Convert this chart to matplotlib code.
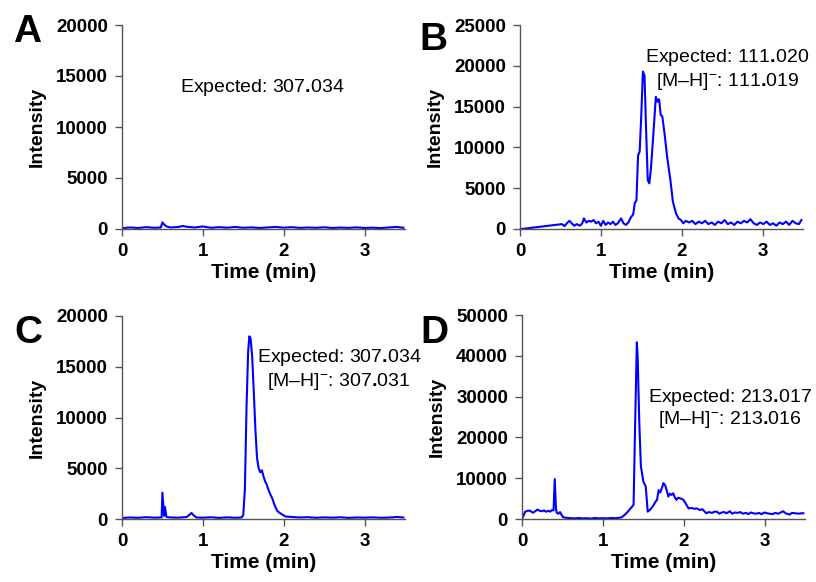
"""
Extracted-ion chromatograms, four panels (A-D), redrawn from the figure.
"""

import matplotlib
matplotlib.use("Agg")
import matplotlib.pyplot as plt

plt.rcParams["font.family"] = ["Liberation Sans", "DejaVu Sans"]
plt.rcParams["mathtext.fontset"] = "custom"
plt.rcParams["mathtext.rm"] = "Liberation Sans"
plt.rcParams["mathtext.it"] = "Liberation Sans"
plt.rcParams["mathtext.bf"] = "Liberation Sans:bold"

W, H = 816, 582

# ---- data ----
a_time = [0.00, 0.10, 0.20, 0.30, 0.40, 0.48, 0.50, 0.52, 0.55, 0.60, 0.70, 0.75,
          0.80, 0.90, 1.00, 1.10, 1.20, 1.30, 1.40, 1.50, 1.60, 1.70, 1.80, 1.90,
          2.00, 2.10, 2.20, 2.30, 2.40, 2.50, 2.60, 2.70, 2.80, 2.90, 3.00, 3.10,
          3.20, 3.30, 3.40, 3.48]
a_int = [80, 150, 100, 180, 120, 150, 650, 450, 250, 150, 200, 300,
         220, 150, 250, 120, 180, 130, 200, 120, 160, 100, 150, 200,
         130, 180, 110, 150, 120, 170, 100, 140, 110, 160, 100, 130,
         90, 150, 200, 120]

b_time = [0.02, 0.52, 0.55, 0.58, 0.61, 0.64, 0.67, 0.70, 0.74, 0.77, 0.79, 0.82,
          0.85, 0.88, 0.91, 0.94, 0.97, 1.00, 1.03, 1.06, 1.09, 1.12, 1.15, 1.18,
          1.21, 1.25, 1.28, 1.31, 1.34, 1.37, 1.40, 1.42, 1.44, 1.46, 1.48, 1.50,
          1.52, 1.54, 1.56, 1.58, 1.60, 1.62, 1.65, 1.68, 1.70, 1.72, 1.74, 1.76,
          1.79, 1.82, 1.86, 1.89, 1.93, 1.96, 1.99, 2.02, 2.05, 2.09, 2.13, 2.17,
          2.21, 2.25, 2.29, 2.33, 2.37, 2.41, 2.45, 2.49, 2.53, 2.57, 2.61, 2.65,
          2.69, 2.73, 2.77, 2.81, 2.85, 2.89, 2.93, 2.97, 3.01, 3.05, 3.09, 3.13,
          3.17, 3.21, 3.25, 3.29, 3.33, 3.37, 3.41, 3.45, 3.48]
b_int = [0, 600, 350, 700, 1000, 700, 400, 600, 400, 700, 1300, 800,
         1000, 900, 1100, 700, 900, 400, 1000, 500, 800, 600, 900, 500,
         700, 1300, 700, 500, 800, 1400, 1800, 3200, 3500, 9000, 9500, 14000,
         19300, 18800, 12000, 6000, 5600, 7500, 11700, 16200, 15600, 15900, 14000, 13800,
         11500, 8800, 6000, 3400, 1900, 1300, 1100, 700, 1000, 800, 1000, 600,
         900, 700, 1000, 600, 800, 500, 900, 700, 1100, 600, 800, 500,
         900, 700, 1000, 800, 1200, 700, 500, 800, 600, 900, 500, 700,
         400, 800, 600, 900, 500, 1000, 700, 600, 1100]

c_time = [0.00, 0.10, 0.20, 0.30, 0.40, 0.49, 0.50, 0.52, 0.53, 0.55, 0.60, 0.70,
          0.80, 0.84, 0.86, 0.88, 0.92, 1.00, 1.10, 1.20, 1.30, 1.40, 1.48, 1.50,
          1.52, 1.54, 1.56, 1.575, 1.59, 1.61, 1.63, 1.65, 1.67, 1.69, 1.71, 1.73,
          1.75, 1.77, 1.79, 1.81, 1.83, 1.86, 1.89, 1.92, 1.95, 1.98, 2.02, 2.10,
          2.20, 2.30, 2.40, 2.50, 2.60, 2.70, 2.80, 2.90, 3.00, 3.10, 3.20, 3.30,
          3.40, 3.48]
c_int = [100, 150, 120, 180, 130, 150, 2600, 300, 1200, 200, 150, 130,
         200, 450, 600, 400, 150, 130, 170, 110, 160, 120, 150, 400,
         3000, 11000, 16500, 18000, 17800, 16000, 12500, 8800, 6000, 5000, 4600, 4800,
         4200, 3700, 3400, 2900, 2500, 2000, 1300, 800, 600, 450, 250, 200,
         150, 180, 120, 160, 130, 170, 110, 150, 130, 160, 120, 140,
         200, 150]

d_time = [0.00, 0.04, 0.07, 0.10, 0.12, 0.14, 0.17, 0.19, 0.22, 0.25, 0.27, 0.30,
          0.33, 0.35, 0.37, 0.39, 0.405, 0.42, 0.43, 0.45, 0.47, 0.49, 0.51, 0.55,
          0.60, 0.65, 0.70, 0.75, 0.80, 0.85, 0.90, 0.95, 1.00, 1.05, 1.10, 1.15,
          1.20, 1.23, 1.27, 1.30, 1.33, 1.36, 1.38, 1.40, 1.42, 1.43, 1.45, 1.47,
          1.50, 1.53, 1.555, 1.58, 1.61, 1.63, 1.65, 1.67, 1.69, 1.71, 1.73, 1.75,
          1.77, 1.79, 1.81, 1.83, 1.85, 1.87, 1.89, 1.91, 1.93, 1.95, 1.98, 2.00,
          2.03, 2.06, 2.10, 2.13, 2.16, 2.20, 2.23, 2.26, 2.28, 2.31, 2.35, 2.38,
          2.41, 2.44, 2.47, 2.50, 2.53, 2.57, 2.60, 2.63, 2.67, 2.70, 2.73, 2.77,
          2.80, 2.83, 2.86, 2.90, 2.93, 2.96, 3.00, 3.03, 3.06, 3.10, 3.13, 3.17,
          3.20, 3.23, 3.26, 3.29, 3.31, 3.34, 3.38, 3.42, 3.45, 3.48]
d_int = [0, 1800, 2000, 2050, 1700, 1560, 2000, 2300, 2000, 1900, 2100, 1800,
         2000, 1800, 2200, 2100, 9800, 2500, 1500, 1300, 1700, 1000, 400, 300,
         200, 150, 250, 150, 200, 100, 250, 150, 200, 150, 250, 200,
         300, 400, 1000, 1600, 2300, 3000, 3500, 24000, 43300, 40000, 24000, 13000,
         9200, 8000, 1800, 2200, 2900, 3500, 4200, 4700, 7100, 6500, 7600, 8800,
         8300, 7000, 5500, 6200, 5900, 6300, 5300, 4700, 5200, 5100, 4900, 4600,
         3600, 2600, 2700, 2500, 2600, 2200, 2400, 1800, 1400, 1700, 1500, 1800,
         1800, 1300, 1600, 1700, 1400, 1900, 1300, 1600, 1500, 1700, 1300, 1500,
         1200, 1600, 1400, 1300, 1500, 1200, 1600, 1400, 1300, 1200, 1500, 1300,
         1600, 1900, 1400, 1200, 1100, 1500, 1400, 1300, 1400, 1400]

panels = [
    # letter, time, intensity, ymax, ystep, axes box in px (left, top, right, bottom), notes
    ("A", a_time, a_int, 20000, 5000, (122, 25, 405, 229),
     [("Expected: ", "307", "034", 262, 87)]),
    ("B", b_time, b_int, 25000, 5000, (520, 25, 803, 229),
     [("Expected: ", "111", "020", 727, 57),
      ("[M\u2013H]$^{-}$: ", "111", "019", 728, 82)]),
    ("C", c_time, c_int, 20000, 5000, (122, 316, 405, 519),
     [("Expected: ", "307", "034", 339, 358),
      ("[M\u2013H]$^{-}$: ", "307", "031", 339, 382)]),
    ("D", d_time, d_int, 50000, 10000, (522, 315, 805, 519),
     [("Expected: ", "213", "017", 730, 398),
      ("[M\u2013H]$^{-}$: ", "213", "016", 730, 420)]),
]

letter_pos = {"A": (27, 32), "B": (433, 40), "C": (28, 333), "D": (434, 333)}

SPINE = "#555555"


def fx(x):
    return x / W


def fy(y):
    return 1 - y / H


fig = plt.figure(figsize=(W / 100, H / 100), dpi=100)

for letter, t, inten, ymax, ystep, box, notes in panels:
    l, top, r, b = box
    ax = fig.add_axes([fx(l), fy(b), (r - l) / W, (b - top) / H])
    ax.plot(t, inten, color="#0000ff", linewidth=1.5)
    ax.set_xlim(0, 3.5)
    ax.set_ylim(0, ymax)
    ax.set_xticks([0, 1, 2, 3])
    ax.set_yticks(list(range(0, ymax + 1, ystep)))
    for side in ("top", "right"):
        ax.spines[side].set_visible(False)
    for side in ("left", "bottom"):
        ax.spines[side].set_color(SPINE)
        ax.spines[side].set_linewidth(1.0)
    ax.tick_params(direction="out", length=5, width=1.0, color=SPINE,
                   labelsize=13.5, pad=5)
    for lab in ax.get_xticklabels() + ax.get_yticklabels():
        lab.set_fontweight("bold")

    # axis titles
    fig.text(fx((l + r) / 2), fy(b + 43), "Time (min)", ha="center", va="center",
             fontsize=15, fontweight="bold")
    fig.text(fx(l - 85), fy((top + b) / 2), "Intensity", ha="center", va="center",
             rotation=90, fontsize=14, fontweight="bold")

    # mass labels, decimal point drawn in bold as in the original
    for head, whole, frac, x, y in notes:
        txt = head + "$\\mathrm{" + whole + "}\\mathbf{.}\\!\\mathrm{" + frac + "}$"
        fig.text(fx(x), fy(y), txt, ha="center", va="center", fontsize=14)

    lx, ly = letter_pos[letter]
    fig.text(fx(lx), fy(ly), letter, ha="center", va="center", fontsize=28,
             fontweight="bold")

fig.savefig("out.png", dpi=100)
